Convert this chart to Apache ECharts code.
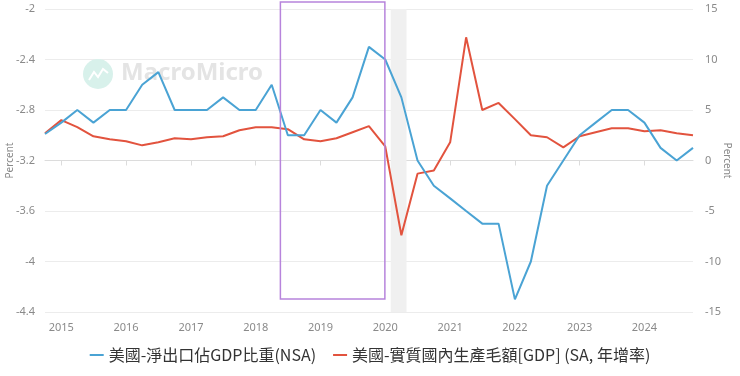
<!DOCTYPE html>
<html>
<head>
<meta charset="utf-8">
<script src="https://cdn.jsdelivr.net/npm/echarts@6/dist/echarts.min.js"></script>
<style>
  html, body { margin: 0; padding: 0; background: #fff; }
  #main { width: 740px; height: 376px; }
</style>
</head>
<body>
<div id="main"></div>
<script>
// quarterly dates
const dates = [
  '2014-10-01',
  '2015-01-01', '2015-04-01', '2015-07-01', '2015-10-01',
  '2016-01-01', '2016-04-01', '2016-07-01', '2016-10-01',
  '2017-01-01', '2017-04-01', '2017-07-01', '2017-10-01',
  '2018-01-01', '2018-04-01', '2018-07-01', '2018-10-01',
  '2019-01-01', '2019-04-01', '2019-07-01', '2019-10-01',
  '2020-01-01', '2020-04-01', '2020-07-01', '2020-10-01',
  '2021-01-01', '2021-04-01', '2021-07-01', '2021-10-01',
  '2022-01-01', '2022-04-01', '2022-07-01', '2022-10-01',
  '2023-01-01', '2023-04-01', '2023-07-01', '2023-10-01',
  '2024-01-01', '2024-04-01', '2024-07-01', '2024-10-01'
];

// 美國-淨出口佔GDP比重 (left axis)
const netExports = [
  -2.99,
  -2.9, -2.8, -2.9, -2.8,
  -2.8, -2.6, -2.5, -2.8,
  -2.8, -2.8, -2.7, -2.8,
  -2.8, -2.6, -3.0, -3.0,
  -2.8, -2.9, -2.7, -2.3,
  -2.4, -2.7, -3.2, -3.4,
  -3.5, -3.6, -3.7, -3.7,
  -4.3, -4.0, -3.4, -3.2,
  -3.0, -2.9, -2.8, -2.8,
  -2.9, -3.1, -3.2, -3.1
];

// 美國-實質GDP 年增率 (right axis)
const gdpYoY = [
  2.7,
  4.0, 3.3, 2.4, 2.1,
  1.9, 1.5, 1.8, 2.2,
  2.1, 2.3, 2.4, 3.0,
  3.3, 3.3, 3.1, 2.1,
  1.9, 2.2, 2.8, 3.4,
  1.4, -7.4, -1.3, -1.0,
  1.8, 12.2, 5.0, 5.7,
  4.1, 2.5, 2.3, 1.3,
  2.4, 2.8, 3.2, 3.2,
  2.9, 3.0, 2.7, 2.5
];

const leftTicks = { min: -4.4, max: -2, interval: 0.4 };
const rightTicks = { min: -15, max: 15, interval: 5 };
const recession = ['2020-02-01', '2020-04-30'];
const boxRange = ['2018-05-20', '2019-12-30'];

const blue = '#4aa3d4';
const red = '#e2533e';
const labelColor = '#8a8a8a';

const chart = echarts.init(document.getElementById('main'));

const option = {
  animation: false,
  backgroundColor: '#fff',
  textStyle: { fontFamily: '"Noto Sans", "Noto Sans CJK TC", sans-serif' },
  grid: { left: 45, right: 47, top: 9, bottom: 64, outerBoundsMode: 'none', containLabel: false },
  legend: {
    bottom: 8,
    icon: 'rect',
    itemWidth: 14,
    itemHeight: 2,
    itemGap: 17,
    textStyle: { fontSize: 16, color: '#333', fontFamily: '"Noto Sans CJK TC", "Noto Sans", sans-serif' },
    data: ['美國-淨出口佔GDP比重(NSA)', '美國-實質國內生產毛額[GDP] (SA, 年增率)']
  },
  xAxis: {
    type: 'time',
    min: dates[0],
    max: dates[dates.length - 1],
    splitNumber: 10,
    axisLine: { lineStyle: { color: '#dcdcdc' } },
    axisTick: { show: true, length: 5, lineStyle: { color: '#dcdcdc' } },
    axisLabel: { color: labelColor, fontSize: 11, formatter: '{yyyy}', margin: 10 },
    splitLine: { show: false }
  },
  yAxis: [
    {
      type: 'value',
      min: leftTicks.min,
      max: leftTicks.max,
      interval: leftTicks.interval,
      name: 'Percent',
      nameLocation: 'middle',
      nameGap: 30,
      nameMoveOverlap: false,
      nameTextStyle: { color: labelColor, fontSize: 10 },
      axisLine: { show: false },
      axisTick: { show: false },
      axisLabel: { color: labelColor, fontSize: 11, margin: 10 },
      splitLine: { lineStyle: { color: '#ececec' } }
    },
    {
      type: 'value',
      min: rightTicks.min,
      max: rightTicks.max,
      interval: rightTicks.interval,
      name: 'Percent',
      nameLocation: 'middle',
      nameGap: 29,
      nameRotate: -90,
      nameMoveOverlap: false,
      nameTextStyle: { color: labelColor, fontSize: 10 },
      axisLine: { show: false },
      axisTick: { show: false },
      axisLabel: { color: labelColor, fontSize: 11, margin: 12 },
      splitLine: { show: false }
    }
  ],
  series: [
    {
      name: '美國-淨出口佔GDP比重(NSA)',
      type: 'line',
      yAxisIndex: 0,
      symbol: 'none',
      lineStyle: { color: blue, width: 2 },
      itemStyle: { color: blue },
      data: dates.map((d, i) => [d, netExports[i]]),
      markArea: {
        silent: true,
        itemStyle: { color: '#f0f0f0' },
        data: [[{ xAxis: recession[0] }, { xAxis: recession[1] }]]
      },
      z: 3
    },
    {
      name: '美國-實質國內生產毛額[GDP] (SA, 年增率)',
      type: 'line',
      yAxisIndex: 1,
      symbol: 'none',
      lineStyle: { color: red, width: 2 },
      itemStyle: { color: red },
      data: dates.map((d, i) => [d, gdpYoY[i]]),
      z: 2
    }
  ]
};

chart.setOption(option);

// annotation box + watermark
const x0 = chart.convertToPixel({ xAxisIndex: 0 }, boxRange[0]);
const x1 = chart.convertToPixel({ xAxisIndex: 0 }, boxRange[1]);
const y0 = chart.convertToPixel({ yAxisIndex: 0 }, -1.945);
const y1 = chart.convertToPixel({ yAxisIndex: 0 }, -4.297);

chart.setOption({
  graphic: [
    {
      type: 'group',
      left: 83,
      top: 59,
      silent: true,
      z: 0,
      children: [
        { type: 'circle', shape: { cx: 15, cy: 16, r: 15 }, style: { fill: '#d8f1eb' } },
        {
          type: 'polyline',
          shape: { points: [[6, 22], [11, 14], [15, 19], [20, 11], [25, 15]] },
          style: { stroke: '#ffffff', lineWidth: 2, fill: null }
        },
        {
          type: 'text',
          x: 38,
          y: 3,
          style: {
            text: 'MacroMicro',
            fill: '#e4e4e4',
            font: 'bold 24px "Noto Sans", sans-serif'
          }
        }
      ]
    },
    {
      type: 'rect',
      silent: true,
      z: 10,
      shape: { x: x0, y: y0, width: x1 - x0, height: y1 - y0 },
      style: { fill: null, stroke: '#b784dc', lineWidth: 1.5 }
    }
  ]
});
</script>
</body>
</html>
